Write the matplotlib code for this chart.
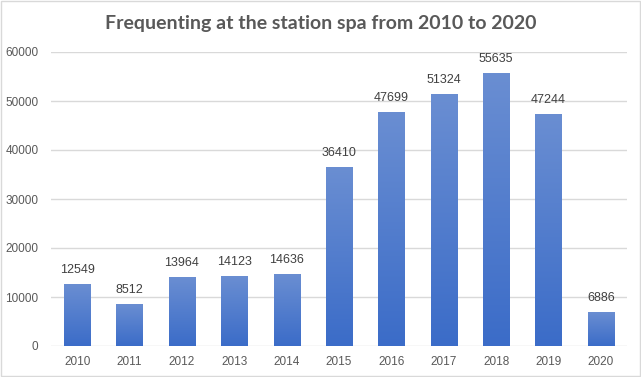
import numpy as np
import matplotlib
matplotlib.use("Agg")
import matplotlib.pyplot as plt
from matplotlib.colors import LinearSegmentedColormap

# data
years = ["2010", "2011", "2012", "2013", "2014", "2015",
         "2016", "2017", "2018", "2019", "2020"]
visitors = [12549, 8512, 13964, 14123, 14636, 36410,
            47699, 51324, 55635, 47244, 6886]
y_ticks = [0, 10000, 20000, 30000, 40000, 50000, 60000]

fig = plt.figure(figsize=(6.41, 3.77), dpi=100)
ax = fig.add_axes([51 / 641, 31 / 377, 576 / 641, 294 / 377])

x = np.arange(len(years))
bars = ax.bar(x, visitors, width=0.5, color="none", zorder=3)

# vertical gradient, lighter at top, darker at bottom
cmap = LinearSegmentedColormap.from_list("bar", ["#3b6cc8", "#6a8ed2"])
grad = np.linspace(0, 1, 256).reshape(-1, 1)
for b in bars:
    x0, y0 = b.get_x(), b.get_y()
    w, h = b.get_width(), b.get_height()
    ax.imshow(grad, cmap=cmap, origin="lower", aspect="auto",
              extent=(x0, x0 + w, y0, y0 + h), zorder=3)

for xi, v in zip(x, visitors):
    ax.annotate(str(v), (xi, v), xytext=(0, 6), textcoords="offset points",
                ha="center", va="bottom", fontsize=9, color="#404040",
                family="Liberation Sans", zorder=4)

ax.set_xlim(-0.5, len(years) - 0.5)
ax.set_ylim(0, 60000)
ax.set_xticks(x)
ax.set_xticklabels(years)
ax.set_yticks(y_ticks)
ax.set_yticklabels([str(t) for t in y_ticks])
ax.tick_params(length=0, labelsize=8.5, labelcolor="#595959")
ax.tick_params(axis="y", pad=9)
ax.tick_params(axis="x", pad=7)
for lab in ax.get_xticklabels() + ax.get_yticklabels():
    lab.set_family("Liberation Sans")
ax.yaxis.grid(True, color="#d9d9d9", linewidth=1)
ax.set_axisbelow(True)
for s in ax.spines.values():
    s.set_visible(False)

fig.text(0.5, 1 - 23 / 377, "Frequenting at the station spa from 2010 to 2020",
         ha="center", va="center", fontsize=14, fontweight="bold",
         color="#595959", family="Lato")

# light frame round the whole chart
fig.patches.append(plt.Rectangle((0.001, 0.002), 0.997, 0.995, transform=fig.transFigure,
                                 fill=False, edgecolor="#d9d9d9", linewidth=1))

fig.savefig("out.png", dpi=100)
